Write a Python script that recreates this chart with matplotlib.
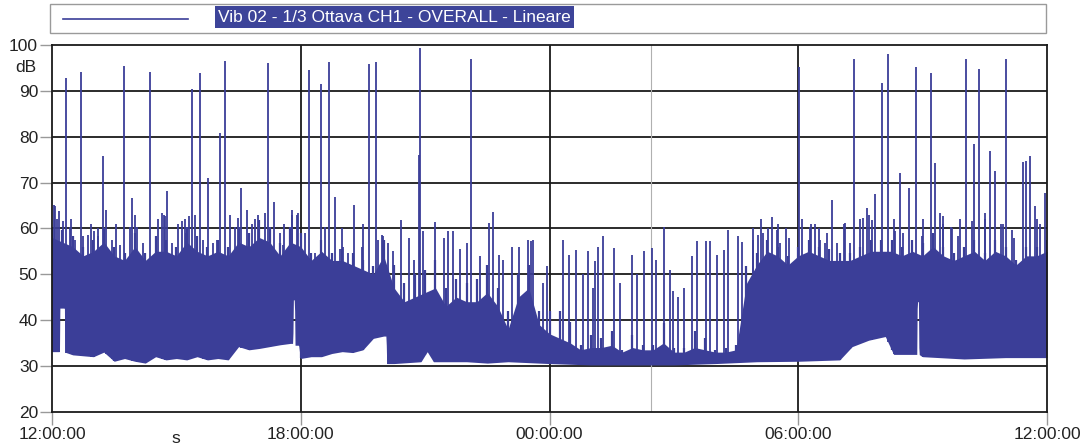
import numpy as np
import matplotlib.pyplot as plt
from matplotlib.patches import Rectangle
from matplotlib.lines import Line2D
import matplotlib.transforms as mtransforms

plt.rcParams['font.family'] = ['Liberation Sans', 'DejaVu Sans']

# hours elapsed since 12:00:00, one value every 15 minutes
band_t = np.arange(0, 24.25, 0.25)
# upper edge of the busy band
band_top = [
    60, 59.7, 58.3, 56, 57.5, 60, 56, 54.7, 59, 54.7, 58.3, 57.5, 56, 60.4, 58.3, 56,
    57.5, 56, 60.4, 59, 61.9, 60.4, 56.8, 60.4, 59, 54.7, 57.5, 54.7, 55.4, 54.7, 53.2, 51.7,
    57.5, 52, 48, 50, 51, 53, 47, 49, 48, 49, 52, 47, 42, 50, 52, 42,
    42, 42, 39.6, 34.6, 36.8, 36, 37.5, 33.5, 36.8, 34.6, 34.6, 39.4, 34, 34, 37.5, 36,
    33.5, 34, 34.6, 51.7, 54.7, 57.5, 56, 53.9, 56, 57.5, 56, 55.4, 54.7, 54.7, 56, 57.5,
    57.5, 57.5, 56, 57.5, 56.8, 59, 56, 54.7, 56, 57.5, 54.7, 57.5, 56, 53.2, 56, 56,
    57.5,
]
# level up to which the band is solid
core_top = [
    58, 57, 56, 54, 55, 57, 54, 53, 56, 53, 55, 55, 54, 57, 55, 54,
    55, 54, 57, 56, 58, 57, 54, 57, 56, 53, 55, 53, 53, 52, 51, 50,
    54, 47, 44, 45, 46, 47, 43, 45, 44, 44, 46, 43, 38, 45, 47, 39,
    37, 36, 35, 33.5, 34, 34, 34.5, 33, 34, 33.5, 33.5, 35, 33, 33, 34, 33.5,
    33, 33, 33.5, 48, 52, 55, 54, 52, 54, 55, 54, 53, 53, 53, 54, 55,
    55, 55, 54, 55, 54, 56, 54, 53, 54, 55, 53, 55, 54, 52, 54, 54,
    55,
]

# background floor of the signal
floor_t = [0, 0.18, 0.19, 0.3, 0.31, 0.5, 0.75, 1.0, 1.25, 1.5, 1.75, 2.0, 2.25, 2.5,
           2.75, 3.0, 3.25, 3.5, 3.75, 4.0, 4.25, 4.5, 4.75, 5.0, 5.25, 5.5, 5.75,
           5.81, 5.82, 5.85, 5.86, 5.95, 5.99, 6.25, 6.5, 6.75, 7.0, 7.25, 7.5, 7.75,
           8.0, 8.06, 8.07, 8.25, 8.9, 9.05, 9.2, 10.0, 10.5, 11.0, 12.0, 13.0, 14.0,
           15.0, 16.0, 17.0, 18.0, 19.0, 19.3, 19.7, 20.1, 20.3, 20.86, 20.87, 20.9,
           20.91, 21.0, 22.0, 23.0, 24.0]
floor_db = [33.1, 33.1, 42.6, 42.6, 33, 32.4, 32.2, 32, 33, 31, 31.6, 31, 30.6, 32,
            31.3, 31.6, 31.3, 32, 31.3, 31.6, 31.3, 34.2, 33.5, 33.8, 34.2, 34.6, 34.9,
            34.9, 44.4, 44.4, 34.5, 34.5, 31.6, 32, 32, 32.7, 33.1, 32.9, 33.5, 36,
            36.5, 36.5, 30.5, 30.5, 30.9, 33.1, 30.9, 30.9, 30.6, 30.9, 30.5, 30.2,
            30.2, 30.2, 30.5, 30.9, 31, 31.3, 34.2, 35.6, 36.4, 32.5, 32.5, 44, 44,
            32.5, 32, 31.5, 31.8, 31.8]

# single events (time in hours, peak dB)
spike_t = [
    0.05, 0.12, 0.34, 0.45, 0.69, 0.95, 1.1, 1.24, 1.3, 1.55, 1.74, 1.94, 2.0, 2.36,
    2.55, 2.7, 2.78, 3.05, 3.2, 3.38, 3.45, 3.56, 3.77, 4.05, 4.17, 4.3, 4.57, 4.71,
    4.9, 5.22, 5.36, 5.6, 5.8, 5.9, 6.21, 6.5, 6.68, 6.82, 7.0, 7.28, 7.5, 7.65,
    7.82, 7.97, 8.11, 8.23, 8.42, 8.6, 8.72, 8.85, 8.88, 8.96, 9.24, 9.45, 9.56,
    9.68, 9.84, 10.02, 10.11, 10.32, 10.53, 10.63, 10.77, 10.87, 11.1, 11.27, 11.48,
    11.55, 11.61, 11.84, 11.93,
    12.33, 12.47, 12.65, 12.8, 12.93, 13.05, 13.1, 13.18, 13.29, 13.56, 13.7, 13.98,
    14.1, 14.28, 14.48, 14.57, 14.77, 14.9, 14.97, 15.1, 15.25, 15.43, 15.56, 15.78,
    15.88, 16.03, 16.21, 16.31, 16.54, 16.65,
    16.9, 17.1, 17.36, 17.5, 17.7, 18.03, 18.1, 18.3, 18.5, 18.7, 18.82, 19.1, 19.35,
    19.5, 19.7, 19.85, 20.03, 20.16, 20.3, 20.46, 20.67, 20.83, 21.0, 21.2, 21.3,
    21.5, 21.7, 21.9, 22.04, 22.24, 22.37, 22.5, 22.62, 22.75, 22.9, 23.0, 23.2,
    23.41, 23.49, 23.6, 23.75, 23.95,
]
spike_db = [
    65, 62, 92.7, 62, 94.1, 61, 60, 75.7, 64, 61, 95.4, 66.6, 63, 94.1,
    62, 63, 68.2, 61, 62, 90.5, 63, 93.8, 71, 80.9, 96.5, 63, 68.8, 63.9,
    62, 96, 65.8, 61, 64, 63, 94.5, 91.6, 96.4, 66.8, 60, 65.2, 61, 95.8,
    96.4, 58.6, 56.8, 55, 61.9, 58, 53.2, 76.1, 99.4, 59.4, 61.3, 58, 59.5,
    59.5, 55.4, 56.8, 97, 53.9, 61.2, 63.6, 54.2, 53.2, 56, 56, 57.5,
    57.2, 57.5, 48, 51.7,
    57.5, 54.2, 55.3, 50, 55, 47, 52.8, 56, 58.3, 55.8, 48, 54.2,
    50, 55, 55.8, 53.2, 60.2, 51, 46.3, 45, 47, 54, 57.3, 57.3,
    57.3, 54.2, 55.3, 59.7, 58.4, 57,
    60, 62, 62.5, 61, 60, 95.2, 62, 61, 60, 59, 66.1, 61, 96.9,
    62, 63, 67.6, 91.8, 98, 62, 72.1, 68.8, 95.1, 62, 94, 74.3,
    61, 60, 62, 96.9, 78.3, 94.7, 62, 76.8, 72.5, 61, 96.9, 58,
    74.4, 74.6, 75.7, 62, 67.7,
]

# smaller bursts riding on top of the band
burst_t = [
    0.07, 0.18, 0.27, 0.43, 0.55, 0.75, 0.88, 1.01, 1.12, 1.44, 1.64, 1.88, 2.04,
    2.2, 2.51, 2.65, 2.73, 2.89, 3.13, 3.23, 3.31, 3.49, 3.65, 3.89, 3.97,
    4.41, 4.49, 4.82, 4.98, 5.14, 5.5, 5.58, 5.78, 5.94, 6.1, 6.34, 6.58, 6.95,
    7.03, 7.15, 7.47, 7.87, 7.99,
    16.92, 17.04, 17.16, 17.28, 17.48, 17.56, 17.78, 18.28, 18.4, 18.52, 18.64,
    18.93, 19.13, 19.25, 19.57, 19.65, 19.77, 20.33, 20.53, 20.98, 21.42, 21.5,
    21.68, 21.86, 22.18, 22.5, 22.94, 23.15, 23.71, 23.83,
]
burst_db = [
    64.8, 63.7, 61.5, 60.4, 57.5, 58.3, 58.6, 59.4, 58.3, 57.5, 56.4, 60.4, 60.4,
    56.8, 58.3, 63.3, 62.6, 56.8, 61.5, 59, 62.6, 58, 57.5, 56.8, 57.5,
    60.4, 62.3, 61, 63, 63.4, 59, 56.4, 63, 63.4, 59, 54.7, 60.4, 55.4,
    56, 54.7, 56, 57.5, 58.3,
    57.5, 58.6, 59, 60, 59.7, 56.8, 58, 60.4, 61, 57.5, 56.8,
    56.8, 61.2, 56.8, 62.3, 64.4, 61.8, 59.4, 59, 58.3, 63.4, 62.8,
    60.4, 58.3, 61.5, 63.4, 61, 59.7, 64.8, 61,
]

line_color = '#3b3e98'

fig = plt.figure(figsize=(10.88, 4.48), dpi=100)
ax = fig.add_axes([52 / 1088, 36.3 / 448, 995 / 1088, 366.7 / 448])

# grid first so the signal sits on top of it
for lvl in range(30, 100, 10):
    ax.axhline(lvl, color='#1a1a1a', lw=1.3, zorder=0)
for h in (6, 12, 18):
    ax.axvline(h, color='#1a1a1a', lw=1.3, zorder=0)
ax.axvline(14.45, color='#b0b0b0', lw=0.8, zorder=0)

# solid part of the band
xx = np.linspace(0, 24, 2400)
lo = np.interp(xx, floor_t, floor_db)
hi = np.interp(xx, band_t, core_top)
ax.fill_between(xx, lo, np.maximum(hi, lo), color=line_color, lw=0, zorder=2)

# everything above it is drawn as vertical strokes from the floor
ax.vlines(band_t, np.interp(band_t, floor_t, floor_db), band_top,
          color=line_color, lw=1.6, zorder=2)
ax.vlines(burst_t, np.interp(burst_t, floor_t, floor_db), burst_db,
          color=line_color, lw=1.3, zorder=2)
ax.vlines(spike_t, np.interp(spike_t, floor_t, floor_db), spike_db,
          color=line_color, lw=1.3, zorder=3)

ax.set_xlim(0, 24)
ax.set_ylim(20, 100)
ax.set_yticks(range(20, 101, 10))
ax.set_xticks([0, 6, 12, 18, 24])
ax.set_xticklabels(['12:00:00', '18:00:00', '00:00:00', '06:00:00', '12:00:00'])
ax.tick_params(axis='both', direction='out', length=9, width=1, color='#999999',
               labelsize=12.5, labelcolor='#222222')
ax.tick_params(axis='y', pad=1)
ax.tick_params(axis='x', pad=2)
for sp in ax.spines.values():
    sp.set_color('#1a1a1a')
    sp.set_linewidth(1.3)

# unit labels
ax.text(-0.026, 95, 'dB', transform=mtransforms.blended_transform_factory(ax.transAxes, ax.transData),
        ha='center', va='center', fontsize=12.5, color='#222222')
ax.text(2.98, -0.072, 's', transform=mtransforms.blended_transform_factory(ax.transData, ax.transAxes),
        ha='center', va='center', fontsize=12.5, color='#222222')

# legend strip along the top
fig.add_artist(Rectangle((50 / 1088, (448 - 33) / 448), 996 / 1088, 29 / 448,
                         transform=fig.transFigure, facecolor='white',
                         edgecolor='#9a9a9a', lw=1))
fig.add_artist(Line2D([63 / 1088, 188 / 1088], [(448 - 19) / 448] * 2,
                      transform=fig.transFigure, color=line_color, lw=1.2))
fig.text(218 / 1088, (448 - 17) / 448, 'Vib 02 - 1/3 Ottava CH1 - OVERALL - Lineare',
         ha='left', va='center', fontsize=12.5, color='white',
         bbox=dict(facecolor='#3d4499', edgecolor='none', pad=2.5))

fig.savefig('out.png', dpi=100)
